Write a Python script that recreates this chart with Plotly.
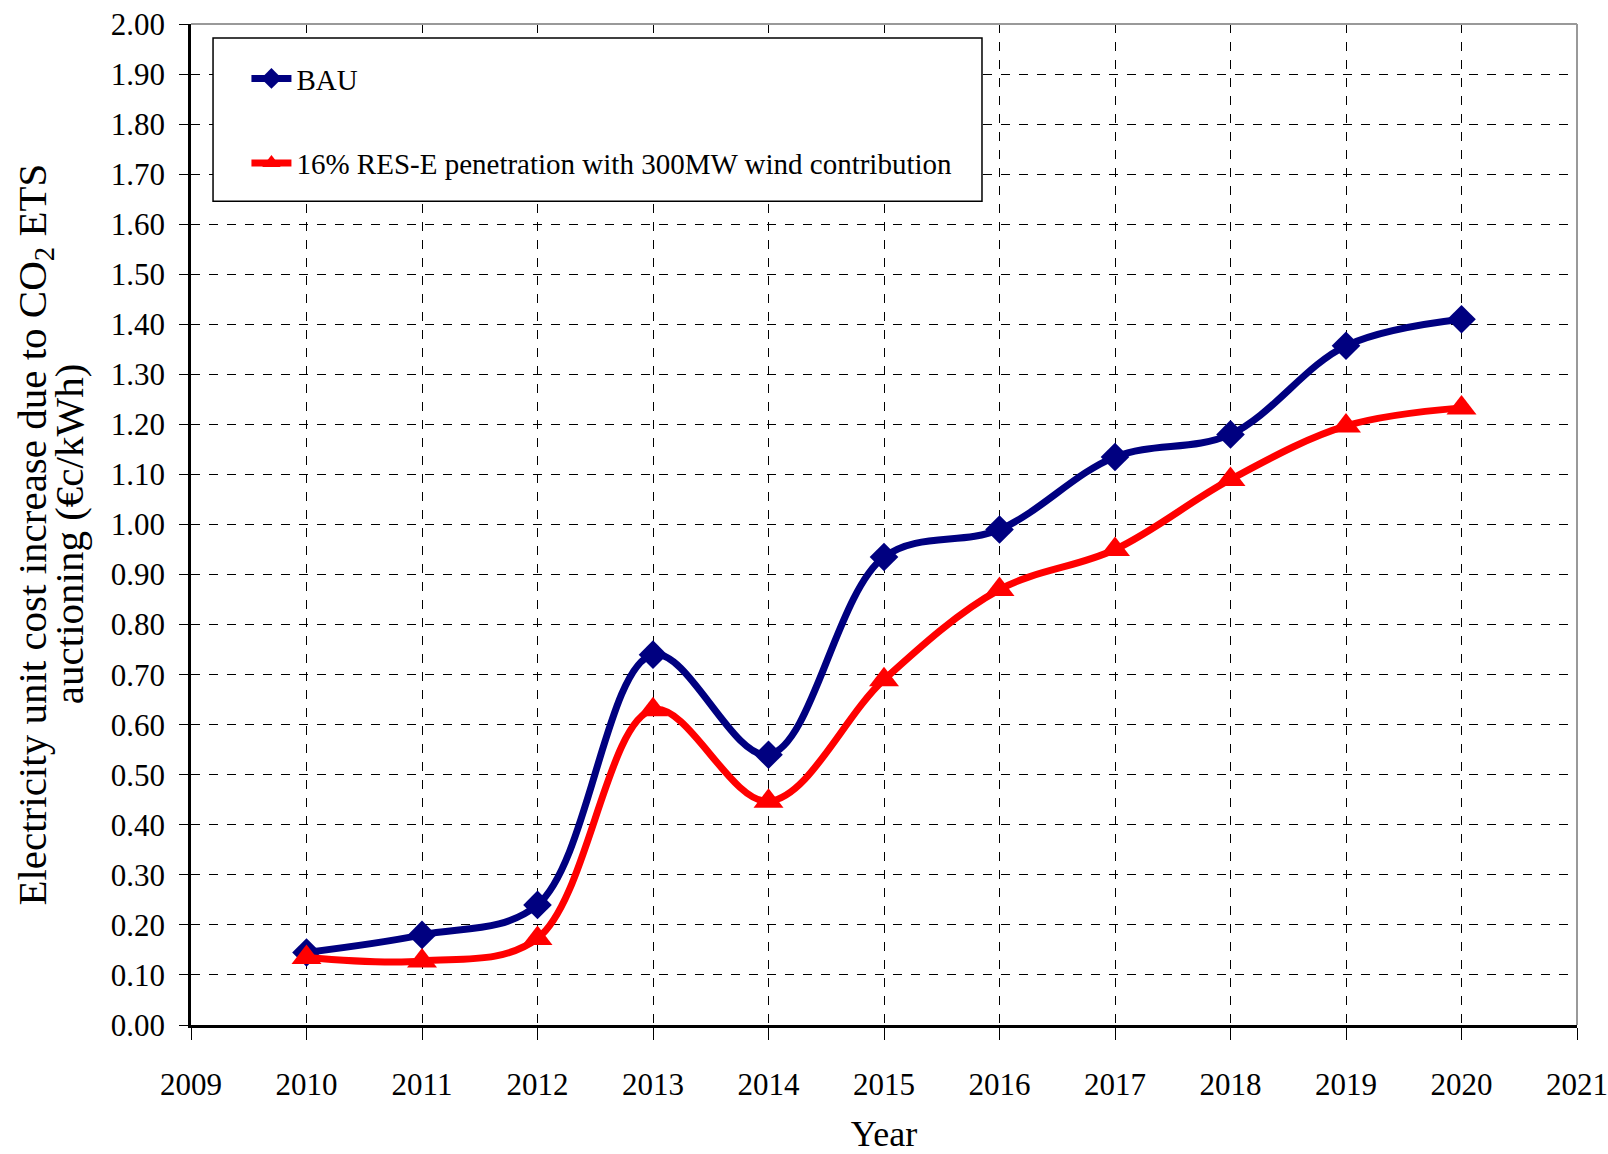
import plotly.graph_objects as go

anios = [2010, 2011, 2012, 2013, 2014, 2015, 2016, 2017, 2018, 2019, 2020]
bau = [0.145, 0.18, 0.24, 0.74, 0.54, 0.935, 0.99, 1.135, 1.18, 1.357, 1.41]
res_e = [0.135, 0.128, 0.173, 0.63, 0.447, 0.69, 0.87, 0.95, 1.09, 1.197, 1.233]

nombre_bau = "BAU"
nombre_res = "16% RES-E penetration with 300MW wind contribution"
titulo_y_1 = "Electricity unit cost increase due to CO<sub>2</sub> ETS"
titulo_y_2 = "auctioning (€c/kWh)"

AZUL = "#000080"
ROJO = "#FF0000"
FUENTE = "Liberation Serif"

fig = go.Figure()

fig.add_trace(
    go.Scatter(
        x=anios,
        y=bau,
        name=nombre_bau,
        legendgroup="a",
        mode="lines+markers",
        line=dict(color=AZUL, width=7, shape="spline", smoothing=1),
        marker=dict(symbol="diamond", size=22, color=AZUL)
    )
)

fig.add_trace(
    go.Scatter(
        x=anios,
        y=res_e,
        name=nombre_res,
        legendgroup="b",
        mode="lines+markers",
        line=dict(color=ROJO, width=7, shape="spline", smoothing=1),
        marker=dict(symbol="triangle-up", size=26, color=ROJO)
    )
)

# caja de la leyenda (mas ancha que el texto, como en el original)
fig.add_shape(
    type="rect",
    xref="paper", yref="paper",
    x0=0.0159, x1=0.5707, y0=0.823, y1=0.986,
    line=dict(color="black", width=1.5),
    fillcolor="white",
    layer="above"
)

# borde superior y derecho gris
fig.add_shape(
    type="line", xref="paper", yref="paper",
    x0=0, x1=1, y0=1, y1=1,
    line=dict(color="#999999", width=2)
)
fig.add_shape(
    type="line", xref="paper", yref="paper",
    x0=1, x1=1, y0=0, y1=1,
    line=dict(color="#999999", width=2)
)

# titulo del eje y en dos lineas
for texto, xpos in [(titulo_y_1, -0.1132), (titulo_y_2, -0.0883)]:
    fig.add_annotation(
        text=texto,
        xref="paper", yref="paper",
        x=xpos, y=0.49,
        xanchor="center", yanchor="middle",
        textangle=-90,
        showarrow=False,
        font=dict(family=FUENTE, size=41, color="black")
    )

fig.update_layout(
    width=1608,
    height=1154,
    plot_bgcolor="white",
    paper_bgcolor="white",
    font=dict(family=FUENTE, size=30, color="black"),
    margin=dict(l=191, r=31, t=24, b=129),
    xaxis=dict(
        range=[2009, 2021],
        tickmode="linear",
        tick0=2009,
        dtick=1,
        showgrid=True,
        gridcolor="black",
        gridwidth=1,
        griddash="dash",
        showline=True,
        linecolor="black",
        linewidth=2.5,
        ticks="outside",
        ticklen=12,
        tickcolor="black",
        tickfont=dict(size=31),
        ticklabelstandoff=18,
        ticklabeloverflow="allow",
        automargin=False,
        zeroline=False,
        title=dict(text="Year", font=dict(size=36), standoff=28)
    ),
    yaxis=dict(
        range=[0, 2.0],
        tickmode="linear",
        tick0=0,
        dtick=0.1,
        tickformat=".2f",
        showgrid=True,
        gridcolor="black",
        gridwidth=1,
        griddash="dash",
        showline=True,
        linecolor="black",
        linewidth=2.5,
        ticks="outside",
        ticklen=9,
        tickcolor="black",
        tickfont=dict(size=31),
        ticklabelstandoff=8,
        ticklabeloverflow="allow",
        automargin=False,
        zeroline=False
    ),
    legend=dict(
        x=0.04,
        y=0.971,
        xanchor="left",
        yanchor="top",
        bgcolor="rgba(0,0,0,0)",
        borderwidth=0,
        font=dict(family=FUENTE, size=29),
        itemwidth=40,
        tracegroupgap=44
    ),
    showlegend=True
)

# sin margen en el body para que la figura ocupe toda la ventana
fig.write_html(
    "out.html",
    config={"displayModeBar": False},
    post_script="document.body.style.margin='0';document.body.style.overflow='hidden';"
)
